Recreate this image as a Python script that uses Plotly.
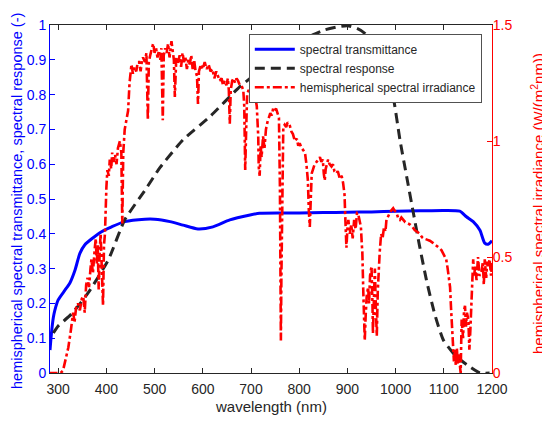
import plotly.graph_objects as go

# ---- data ----
wl_trans = [283, 286, 290, 293, 300, 314, 324, 335, 345, 355, 369, 390, 411, 438, 480, 500,
            532, 559, 590, 621, 656, 698, 718, 760, 800, 850, 900, 950, 1000, 1050, 1100,
            1133, 1147, 1161, 1175, 1185, 1192, 1200]
transmittance = [0.066, 0.114, 0.16, 0.18, 0.21, 0.238, 0.258, 0.296, 0.344, 0.368, 0.385, 0.406,
                 0.42, 0.435, 0.442, 0.442, 0.435, 0.425, 0.414, 0.42, 0.44, 0.454, 0.459, 0.46,
                 0.46, 0.461, 0.462, 0.463, 0.465, 0.466, 0.467, 0.465, 0.449, 0.435, 0.41,
                 0.373, 0.37, 0.38]

wl_resp = [290, 300, 328, 362, 404, 438, 480, 511, 559, 615, 677, 720, 760, 800, 826, 853, 880,
           900, 920, 936, 960, 980, 995, 1009, 1023, 1037, 1050, 1064, 1081, 1099, 1126, 1154,
           1175, 1195]
response = [0.115, 0.135, 0.17, 0.23, 0.325, 0.44, 0.525, 0.59, 0.67, 0.737, 0.823, 0.87, 0.915,
            0.95, 0.97, 0.986, 0.995, 0.998, 0.99, 0.976, 0.93, 0.87, 0.794, 0.67, 0.564, 0.459,
            0.363, 0.267, 0.17, 0.095, 0.047, 0.018, 0.0, 0.0]

wl_irr = [280, 290, 300, 305, 310, 315, 321, 326, 331, 334, 337, 341, 345, 349, 352, 355, 358,
          361, 364, 367, 369, 372, 374, 376, 378, 380, 382, 384, 386, 388, 390, 393, 395, 397,
          400, 402, 405, 407, 410, 412, 415, 418, 421, 424, 428, 431, 433, 435, 438, 441, 445,
          448, 450, 452, 455, 458, 462, 465, 468, 471, 474, 476, 480, 483, 486, 488, 491, 494,
          497, 500, 503, 506, 509, 512, 514, 517, 519, 522, 525, 528, 531, 535, 538, 540, 542,
          545, 548, 552, 555, 558, 561, 564, 567, 570, 573, 576, 579, 582, 585, 588, 590, 592,
          596, 600, 604, 608, 612, 616, 620, 624, 628, 631, 635, 639, 642, 645, 649, 652, 654,
          656, 658, 661, 664, 667, 670, 673, 677, 680, 684, 686, 688, 690, 692, 695, 699, 703,
          706, 709, 712, 715, 716, 718, 720, 722, 725, 728, 731, 734, 737, 740, 743, 746, 749,
          752, 755, 758, 760, 761, 762, 763, 765, 767, 770, 773, 776, 780, 784, 787, 791, 795,
          798, 801, 805, 808, 812, 815, 818, 820, 822, 824, 826, 829, 832, 836, 840, 843, 846,
          849, 851, 853, 855, 858, 860, 863, 867, 870, 873, 877, 880, 884, 888, 891, 894, 896,
          898, 900, 902, 905, 908, 911, 914, 917, 920, 922, 925, 928, 930, 931, 933, 935, 936,
          938, 940, 943, 945, 947, 950, 952, 953, 955, 957, 959, 961, 963, 965, 967, 970, 973,
          976, 979, 981, 985, 988, 991, 995, 998, 1002, 1005, 1009, 1012, 1016, 1020, 1025,
          1030, 1035, 1040, 1044, 1050, 1055, 1058, 1065, 1071, 1078, 1085, 1090, 1095, 1100,
          1105, 1108, 1111, 1113, 1115, 1116, 1118, 1119, 1121, 1123, 1125, 1127, 1129, 1131,
          1133, 1135, 1137, 1140, 1142, 1144, 1146, 1148, 1151, 1153, 1155, 1157, 1158, 1161,
          1163, 1165, 1168, 1171, 1174, 1178, 1181, 1183, 1185, 1188, 1190, 1192, 1195, 1198,
          1200]
irradiance = [0, 0, 0, 0.0, 0.01, 0.05, 0.11, 0.18, 0.26, 0.22, 0.28, 0.30, 0.27, 0.32, 0.33,
              0.26, 0.38, 0.41, 0.37, 0.45, 0.49, 0.43, 0.51, 0.54, 0.58, 0.47, 0.55, 0.36, 0.52,
              0.60, 0.48, 0.29, 0.55, 0.60, 0.80, 0.875, 0.85, 0.92, 0.88, 0.95, 0.91, 0.94, 0.90,
              0.97, 1.00, 0.95, 0.645, 0.95, 1.05, 1.09, 1.13, 1.25, 1.30, 1.33, 1.29, 1.32, 1.30,
              1.34, 1.34, 1.30, 1.35, 1.36, 1.34, 1.38, 1.09, 1.34, 1.37, 1.39, 1.42, 1.38, 1.40,
              1.36, 1.39, 1.35, 1.40, 1.09, 1.37, 1.40, 1.38, 1.42, 1.36, 1.43, 1.39, 1.35, 1.19,
              1.36, 1.33, 1.37, 1.32, 1.38, 1.34, 1.36, 1.31, 1.35, 1.33, 1.37, 1.31, 1.35, 1.30,
              1.28, 1.16, 1.30, 1.33, 1.31, 1.34, 1.31, 1.33, 1.30, 1.31, 1.27, 1.30, 1.28, 1.26,
              1.27, 1.24, 1.26, 1.24, 1.27, 1.22, 1.075, 1.22, 1.26, 1.27, 1.25, 1.27, 1.26, 1.24,
              1.24, 1.22, 1.15, 0.875, 1.05, 1.20, 1.22, 1.20, 1.19, 1.17, 1.19, 1.15, 1.02, 0.89,
              0.85, 0.98, 0.93, 1.02, 0.97, 1.05, 1.08, 1.10, 1.12, 1.11, 1.14, 1.13, 1.14, 1.12,
              1.10, 0.80, 0.30, 0.14, 0.40, 0.90, 1.06, 1.07, 1.06, 1.08, 1.07, 1.04, 1.03, 1.00,
              1.01, 0.98, 0.99, 0.97, 0.96, 0.95, 0.90, 0.83, 0.70, 0.63, 0.75, 0.86, 0.88, 0.90,
              0.91, 0.92, 0.93, 0.91, 0.92, 0.86, 0.83, 0.88, 0.91, 0.92, 0.90, 0.89, 0.90, 0.87,
              0.86, 0.87, 0.84, 0.85, 0.82, 0.77, 0.65, 0.54, 0.62, 0.66, 0.60, 0.64, 0.58, 0.66,
              0.62, 0.69, 0.69, 0.66, 0.63, 0.55, 0.52, 0.35, 0.20, 0.14, 0.25, 0.33, 0.37, 0.30,
              0.42, 0.46, 0.30, 0.17, 0.32, 0.45, 0.28, 0.16, 0.35, 0.45, 0.52, 0.60, 0.58, 0.63,
              0.61, 0.66, 0.68, 0.69, 0.70, 0.71, 0.70, 0.69, 0.67, 0.66, 0.67, 0.66, 0.65, 0.645,
              0.64, 0.63, 0.615, 0.61, 0.60, 0.585, 0.58, 0.575, 0.57, 0.56, 0.55, 0.54, 0.53,
              0.51, 0.49, 0.45, 0.40, 0.37, 0.28, 0.23, 0.15, 0.10, 0.05, 0.10, 0.03, 0.11, 0.04,
              0.08, 0.027, 0.0, 0.23, 0.15, 0.27, 0.29, 0.20, 0.26, 0.23, 0.10, 0.18, 0.30, 0.34,
              0.49, 0.42, 0.46, 0.40, 0.50, 0.42, 0.43, 0.48, 0.38, 0.49, 0.41, 0.48, 0.46, 0.49,
              0.42, 0.48]

x_ticks = [300, 400, 500, 600, 700, 800, 900, 1000, 1100, 1200]
y2_ticks = [0, 0.5, 1, 1.5]

left_title = "hemispherical spectral transmittance, spectral response (-)"
right_title = "hemispherical spectral irradiance (W/(m<sup>2</sup>nm))"
x_title = "wavelength (nm)"

FONT = "Arial, Liberation Sans, sans-serif"
GRAY = "#262626"
BLUE = "#0000ff"
RED = "#ff0000"

# the page body adds an 8px offset; the figure is sized to fill the rest of the window
W, H = 542, 414
ML, MR, MT, MB = 42, 58, 17, 49
PW = W - ML - MR
PH = H - MT - MB
X0, Y1 = ML + 8, MT + 8          # plot-area left / top in window pixels


def px_x(px):
    return (px - X0) / PW


def px_y(py):
    return (Y1 + PH - py) / PH


fig = go.Figure()
fig.add_trace(go.Scatter(x=wl_trans, y=transmittance, mode="lines", name="spectral transmittance",
                         line=dict(color=BLUE, width=3, shape="spline", smoothing=0.6)))
fig.add_trace(go.Scatter(x=wl_resp, y=response, mode="lines", name="spectral response",
                         line=dict(color=GRAY, width=3, dash="10px,6px", shape="spline", smoothing=0.5)))
fig.add_trace(go.Scatter(x=wl_irr, y=irradiance, mode="lines", name="hemispherical spectral irradiance",
                         yaxis="y2", line=dict(color=RED, width=2.6, dash="dashdot")))

fig.update_layout(
    width=W, height=H,
    margin=dict(l=ML, r=MR, t=MT, b=MB, autoexpand=False),
    plot_bgcolor="white", paper_bgcolor="white",
    font=dict(family=FONT, color=GRAY),
    showlegend=True,
    legend=dict(x=px_x(482), y=px_y(34), xanchor="right", yanchor="top",
                bgcolor="white", bordercolor=GRAY, borderwidth=0.8,
                font=dict(size=12, color=GRAY), itemwidth=40, tracegroupgap=0),
    xaxis=dict(range=[283, 1200], tickvals=x_ticks, ticks="inside", ticklen=5, automargin=False,
               tickcolor=GRAY, showline=True, linecolor=GRAY, linewidth=1, mirror="ticks",
               showgrid=False, zeroline=False, tickfont=dict(size=14, color=GRAY),
               ticklabelstandoff=3),
    yaxis=dict(range=[0, 1], dtick=0.1, ticks="inside", ticklen=5, tickcolor=BLUE, automargin=False,
               showline=True, linecolor=BLUE, linewidth=1, showgrid=False, zeroline=False,
               tickfont=dict(size=14, color=BLUE)),
    yaxis2=dict(range=[0, 1.5], tickvals=y2_ticks, overlaying="y", side="right", automargin=False,
                ticks="inside", ticklen=5, tickcolor=RED, showline=True, linecolor=RED,
                linewidth=1, showgrid=False, zeroline=False, tickfont=dict(size=14, color=RED),
                ticklabelstandoff=-3),
    annotations=[
        dict(text=left_title, xref="paper", yref="paper", x=px_x(17), y=px_y(201),
             xanchor="center", yanchor="middle", textangle=-90, showarrow=False,
             font=dict(size=14.5, color=BLUE)),
        dict(text=right_title, xref="paper", yref="paper", x=px_x(537), y=px_y(204),
             xanchor="center", yanchor="middle", textangle=-90, showarrow=False,
             font=dict(size=15, color=RED)),
        dict(text=x_title, xref="paper", yref="paper", x=px_x(271), y=px_y(406),
             xanchor="center", yanchor="middle", showarrow=False,
             font=dict(size=15, color=GRAY)),
    ],
)

fig.write_html("out.html")
